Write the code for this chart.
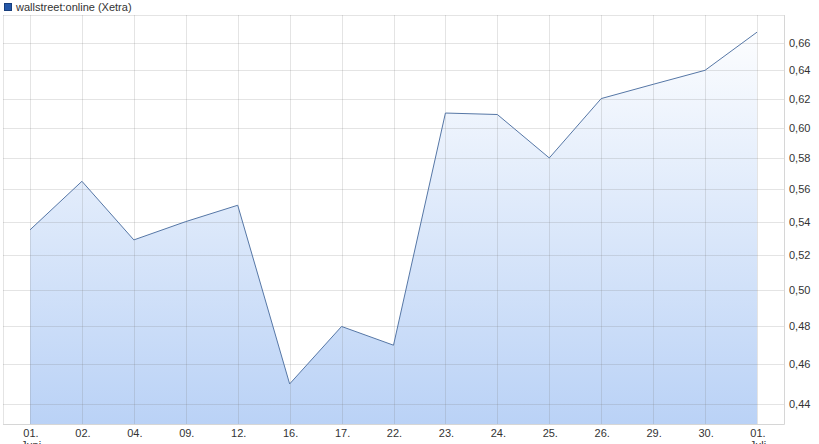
<!DOCTYPE html>
<html>
<head>
<meta charset="utf-8">
<script src="https://cdn.jsdelivr.net/npm/d3@7"></script>
<style>
  body { margin: 0; background: #fff; }
  svg { display: block; font-family: "Liberation Sans", Arial, sans-serif; }
</style>
</head>
<body>
<div id="chart"></div>
<script>
// days of the period (Juni -> Juli)
const days = ["01.", "02.", "04.", "09.", "12.", "16.", "17.", "22.", "23.", "24.", "25.", "26.", "29.", "30.", "01."];
const months = ["Juni", "", "", "", "", "", "", "", "", "", "", "", "", "", "Juli"];
const prices = [0.535, 0.565, 0.529, 0.540, 0.550, 0.450, 0.480, 0.470, 0.610, 0.609, 0.580, 0.620, 0.630, 0.640, 0.668];
const yTicks = [0.44, 0.46, 0.48, 0.50, 0.52, 0.54, 0.56, 0.58, 0.60, 0.62, 0.64, 0.66];
const seriesName = "wallstreet:online (Xetra)";

const width = 819;
const height = 444;
const plot = { left: 3, right: 784, top: 15, bottom: 424 };

const svg = d3
  .select("#chart")
  .append("svg")
  .attr("width", width)
  .attr("height", height);

const idx = d3.range(days.length);

const xScale = d3
  .scalePoint()
  .domain(idx)
  .range([30, 757]);

const yScale = d3
  .scaleLog()
  .domain([0.4302, 0.681])
  .range([plot.bottom, plot.top]);

const defs = svg.append("defs");
const grad = defs
  .append("linearGradient")
  .attr("id", "fillGrad")
  .attr("x1", 0).attr("y1", 0).attr("x2", 0).attr("y2", 1)
  .attr("gradientUnits", "userSpaceOnUse")
  .attr("y1", plot.top)
  .attr("y2", plot.bottom);
grad.append("stop").attr("offset", "0%").attr("stop-color", "#ffffff");
grad.append("stop").attr("offset", "100%").attr("stop-color", "#bad2f6");

// area
const area = d3
  .area()
  .x((d) => xScale(d))
  .y0(plot.bottom)
  .y1((d) => yScale(prices[d]));

svg
  .append("path")
  .datum(idx)
  .attr("d", area)
  .attr("fill", "url(#fillGrad)");

// grid
const grid = svg.append("g").attr("stroke", "rgba(120,120,120,0.2)").attr("stroke-width", 1);

grid
  .selectAll("line.h")
  .data(yTicks)
  .enter()
  .append("line")
  .attr("x1", plot.left)
  .attr("x2", plot.right)
  .attr("y1", (d) => Math.round(yScale(d)) + 0.5)
  .attr("y2", (d) => Math.round(yScale(d)) + 0.5);

grid
  .append("line")
  .attr("x1", plot.left)
  .attr("x2", plot.right)
  .attr("y1", plot.top + 0.5)
  .attr("y2", plot.top + 0.5);

grid
  .selectAll("line.v")
  .data(idx)
  .enter()
  .append("line")
  .attr("x1", (d) => Math.round(xScale(d)) + 0.5)
  .attr("x2", (d) => Math.round(xScale(d)) + 0.5)
  .attr("y1", plot.top)
  .attr("y2", plot.bottom);

grid
  .append("line")
  .attr("x1", plot.left + 0.5)
  .attr("x2", plot.left + 0.5)
  .attr("y1", plot.top)
  .attr("y2", plot.bottom);

// frame right / bottom
svg
  .append("path")
  .attr("d", `M${plot.right + 0.5},${plot.top}V${plot.bottom + 0.5}H${plot.left}`)
  .attr("fill", "none")
  .attr("stroke", "#d6d6d6");

// line
const line = d3
  .line()
  .x((d) => xScale(d))
  .y((d) => yScale(prices[d]));

svg
  .append("path")
  .datum(idx)
  .attr("d", line)
  .attr("fill", "none")
  .attr("stroke", "#5677a6")
  .attr("stroke-width", 1);

// y axis labels
svg
  .selectAll("text.ylab")
  .data(yTicks)
  .enter()
  .append("text")
  .attr("x", 789)
  .attr("y", (d) => yScale(d) + 4)
  .attr("font-size", 11)
  .attr("fill", "#333")
  .text((d) => d3.format(".2f")(d).replace(".", ","));

// x axis labels
const xl = svg
  .selectAll("text.xlab")
  .data(idx)
  .enter()
  .append("text")
  .attr("x", (d) => xScale(d) + 1)
  .attr("y", 437)
  .attr("font-size", 11)
  .attr("fill", "#333")
  .attr("text-anchor", "middle");
xl.append("tspan").text((d) => days[d]);
xl.append("tspan")
  .attr("x", (d) => xScale(d) + 1)
  .attr("dy", 12)
  .text((d) => months[d]);

// legend
svg
  .append("rect")
  .attr("x", 4.5)
  .attr("y", 3.5)
  .attr("width", 7)
  .attr("height", 7)
  .attr("fill", "#2457a8")
  .attr("stroke", "#183e7c");

svg
  .append("text")
  .attr("x", 16)
  .attr("y", 11)
  .attr("font-size", 11)
  .attr("fill", "#333")
  .text(seriesName);
</script>
</body>
</html>
